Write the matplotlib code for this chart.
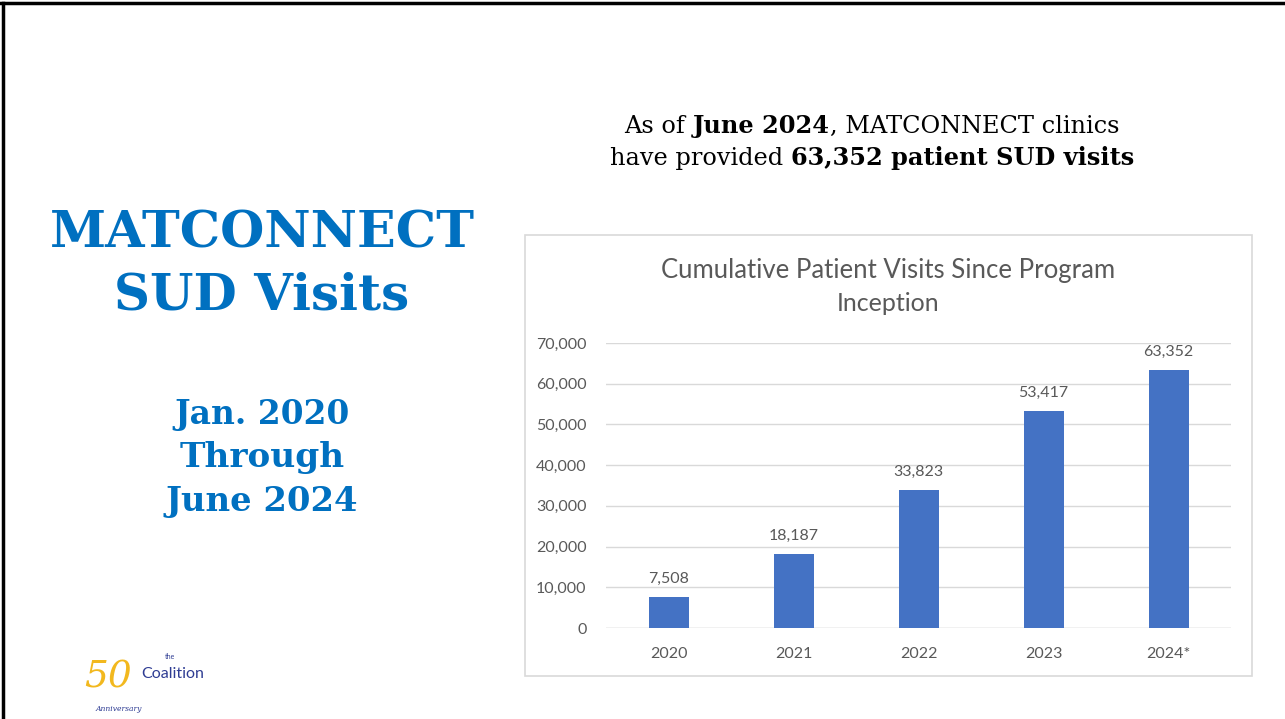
import matplotlib
matplotlib.use('Agg')
import matplotlib.pyplot as plt
from matplotlib.patches import Rectangle

# Datos del grafico
years = ['2020', '2021', '2022', '2023', '2024*']
visits = [7508, 18187, 33823, 53417, 63352]
y_ticks = [0, 10000, 20000, 30000, 40000, 50000, 60000, 70000]

blue_title = '#0070C0'
bar_color = '#4472C4'
gray = '#595959'
serif = ['DejaVu Serif']

W, H = 1285, 719
fig = plt.figure(figsize=(W / 100, H / 100), dpi=100)
renderer = fig.canvas.get_renderer()


def fx(px):
    return px / W


def fy(py):
    return 1 - py / H


def fit_text(s, cx, y, width_px, size, **kw):
    """Texto centrado cuyo tamano se ajusta al ancho medido en la referencia."""
    t = fig.text(fx(cx), fy(y), s, fontsize=size, ha='center', va='baseline', **kw)
    w = t.get_window_extent(renderer).width
    t.set_fontsize(size * width_px / w)
    return t


def mixed_line(parts, cx, y, size):
    """Dibuja una linea con partes normales y en negrita, centrada en cx."""
    texts = []
    for s, bold in parts:
        t = fig.text(0, fy(y), s, fontsize=size, family=serif,
                     fontweight='bold' if bold else 'normal', color='black',
                     va='baseline', ha='left')
        texts.append(t)
    widths = [t.get_window_extent(renderer).width for t in texts]
    x = cx - sum(widths) / 2
    for t, w in zip(texts, widths):
        t.set_x(fx(x))
        x += w


# Borde de la diapositiva
fig.add_artist(plt.Line2D([0, 1], [fy(3), fy(3)], color='black', lw=2.5))
fig.add_artist(plt.Line2D([fx(3), fx(3)], [0, fy(3)], color='black', lw=2.5))

# Titulo a la izquierda
fit_text('MATCONNECT', 262, 247, 425, 36, fontweight='bold', family=serif,
         color=blue_title)
fit_text('SUD Visits', 262, 310, 295, 36, fontweight='bold', family=serif,
         color=blue_title)
fit_text('Jan. 2020', 262, 424, 175, 22, fontweight='bold', family=serif,
         color=blue_title)
fit_text('Through', 262, 467, 165, 22, fontweight='bold', family=serif,
         color=blue_title)
fit_text('June 2024', 262, 511, 193, 22, fontweight='bold', family=serif,
         color=blue_title)

# Texto superior
mixed_line([('As of ', False), ('June 2024', True), (', MATCONNECT clinics', False)],
           872, 133, 17.3)
mixed_line([('have provided ', False), ('63,352 patient SUD visits', True)],
           872, 165, 17.3)

# Caja del grafico
fig.add_artist(Rectangle((fx(525), fy(676)), fx(1252) - fx(525), fy(235) - fy(676),
                         transform=fig.transFigure, fill=False,
                         edgecolor='#D9D9D9', lw=1.2))

fit_text('Cumulative Patient Visits Since Program', 888, 278, 455, 15,
         family='Lato', color=gray)
fig.text(fx(888), fy(311), 'Inception', fontsize=18, family='Lato', color=gray,
         ha='center', va='baseline')

ax = fig.add_axes([fx(606), fy(628), fx(1231) - fx(606), fy(343) - fy(628)])
x = range(len(years))
bars = ax.bar(x, visits, width=0.32, color=bar_color, zorder=3)
ax.set_xlim(-0.5, len(years) - 0.5)
ax.set_ylim(0, 70000)
ax.set_yticks(y_ticks)
ax.set_yticklabels([f'{v:,}' for v in y_ticks])
ax.set_xticks(list(x))
ax.set_xticklabels(years)
ax.tick_params(length=0, labelsize=11.5, labelcolor=gray, labelfontfamily='Lato')
ax.tick_params(axis='x', pad=14)
ax.tick_params(axis='y', pad=14)
ax.grid(axis='y', color='#D9D9D9', lw=1, zorder=0)
for s in ax.spines.values():
    s.set_visible(False)
ax.axhline(0, color='#D9D9D9', lw=1, zorder=2)
for b, v in zip(bars, visits):
    ax.annotate(f'{v:,}', (b.get_x() + b.get_width() / 2, v),
                xytext=(0, 8), textcoords='offset points', ha='center',
                va='bottom', fontsize=11.5, color=gray, family='Lato')

# Logo aproximado
fig.text(fx(84), fy(688), '50', fontsize=27, style='italic', family=serif,
         color='#F2B81E', ha='left', va='baseline')
fig.text(fx(165), fy(659), 'the', fontsize=5, family='Lato',
         color='#2E3C93', ha='left', va='baseline')
fig.text(fx(141), fy(678), 'Coalition', fontsize=11.5, family='Lato',
         color='#2E3C93', ha='left', va='baseline')
fig.text(fx(96), fy(711), 'Anniversary', fontsize=5.5, style='italic',
         family=serif, color='#2E3C93', ha='left', va='baseline')

fig.savefig('out.png', dpi=100)
